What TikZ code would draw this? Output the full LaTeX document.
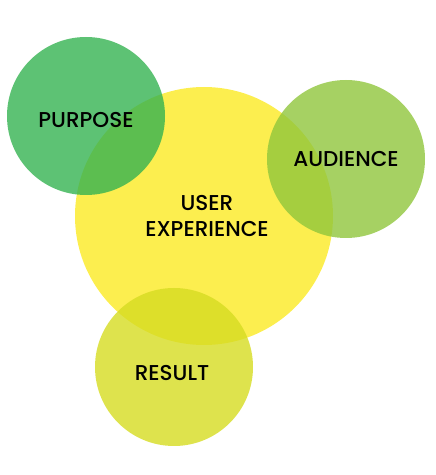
\documentclass[tikz,border=0pt]{standalone}
\usepackage{fontspec}
\setmainfont{Poppins}
\newfontfamily\pmed{Poppins Medium}
\definecolor{ux}{RGB}{252,238,79}
\definecolor{purp}{RGB}{53,179,81}
\definecolor{aud}{RGB}{144,198,60}
\definecolor{res}{RGB}{214,220,33}
\begin{document}
\begin{tikzpicture}[x=1pt,y=1pt,
  blob/.style={circle,inner sep=0pt,minimum size=#1},
  lbl/.style={font=\pmed\fontsize{21.5}{26}\selectfont,text=black,align=center}]
\useasboundingbox (0,0) rectangle (436,475);
\node[blob=258pt,fill=ux] (ux) at (204,259) {};
\node[blob=158pt,fill=purp,fill opacity=0.8] (purpose) at (86,359) {};
\node[blob=158pt,fill=aud,fill opacity=0.8] (audience) at (346,316) {};
\node[blob=158pt,fill=res,fill opacity=0.8] (result) at (174,108) {};
\node[lbl] (tpurpose) at (86,355) {PURPOSE};
\node[lbl] (taudience) at (346,316) {AUDIENCE};
\node[lbl] (tux) at (207,259) {USER\\EXPERIENCE};
\node[lbl] (tresult) at (172,102) {RESULT};
\end{tikzpicture}
\end{document}
